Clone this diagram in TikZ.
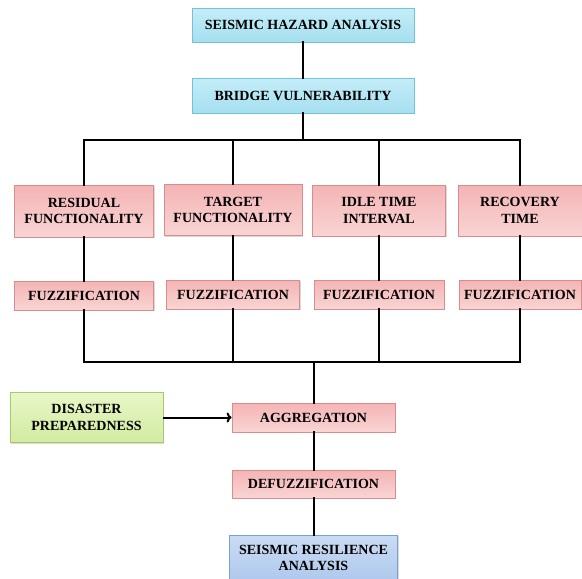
\documentclass[tikz,border=0pt]{standalone}
\usepackage{fontspec}
\setmainfont{Liberation Serif}
\usetikzlibrary{shadows, positioning, arrows.meta}

\definecolor{cyanfill}{HTML}{C4EDF8}
\definecolor{cyanfilldk}{HTML}{A6DFF0}
\definecolor{cyanline}{HTML}{6FC3DC}
\definecolor{pinkfill}{HTML}{F4B4B4}
\definecolor{pinkfilllt}{HTML}{F9D4D4}
\definecolor{pinkline}{HTML}{D98C8C}
\definecolor{greenfill}{HTML}{E8F6C8}
\definecolor{greenfilldk}{HTML}{D2EBA0}
\definecolor{greenline}{HTML}{A7C86C}
\definecolor{bluefill}{HTML}{CADCF4}
\definecolor{bluefilldk}{HTML}{AFC8EC}
\definecolor{blueline}{HTML}{7C9FD4}

\tikzset{
  box/.style={draw, line width=0.8pt, align=center, inner sep=0pt,
    font=\fontsize{14}{16.5}\selectfont\bfseries,
    drop shadow={shadow xshift=1.2pt, shadow yshift=-1.2pt, opacity=0.3}},
  cyanbox/.style={box, draw=cyanline, top color=cyanfill, bottom color=cyanfilldk},
  pinkbox/.style={box, draw=pinkline, top color=pinkfill, bottom color=pinkfilllt},
  greenbox/.style={box, draw=greenline, top color=greenfill, bottom color=greenfilldk},
  bluebox/.style={box, draw=blueline, top color=bluefill, bottom color=bluefilldk},
  link/.style={line width=2pt, line cap=rect}
}

\begin{document}
\begin{tikzpicture}[x=1pt, y=-1pt]
	\useasboundingbox (0,0) rectangle (582,579);
	% top chain
	\node[cyanbox, minimum width=222pt, minimum height=34pt] (sha) at (303,25) {SEISMIC HAZARD ANALYSIS};
	\node[cyanbox, minimum width=222pt, minimum height=35pt] (bv) at (303,95.5) {BRIDGE VULNERABILITY};
	% parameters
	\node[pinkbox, minimum width=139pt, minimum height=52pt] (res) at (84,211) {RESIDUAL\\FUNCTIONALITY};
	\node[pinkbox, minimum width=138pt, minimum height=51pt] (tgt) at (233,210) {TARGET\\FUNCTIONALITY};
	\node[pinkbox, minimum width=133pt, minimum height=51pt] (idl) at (379,210.5) {IDLE TIME\\INTERVAL};
	\node[pinkbox, minimum width=124pt, minimum height=51pt] (rec) at (520,210.5) {RECOVERY\\TIME};
	\node[pinkbox, minimum width=139pt, minimum height=29pt] (fz1) at (84,295.5) {FUZZIFICATION};
	\node[pinkbox, minimum width=133pt, minimum height=29pt] (fz2) at (233,294.5) {FUZZIFICATION};
	\node[pinkbox, minimum width=130pt, minimum height=29pt] (fz3) at (379,294.5) {FUZZIFICATION};
	\node[pinkbox, minimum width=122pt, minimum height=29pt] (fz4) at (520,294.5) {FUZZIFICATION};
	% bottom chain
	\node[greenbox, minimum width=153pt, minimum height=50pt] (dis) at (86.5,417.5) {DISASTER\\PREPAREDNESS};
	\node[pinkbox, minimum width=163pt, minimum height=29pt] (agg) at (313.5,417.5) {AGGREGATION};
	\node[pinkbox, minimum width=163pt, minimum height=28pt] (dfz) at (313.5,484) {DEFUZZIFICATION};
	\node[bluebox, minimum width=168pt, minimum height=46pt] (sra) at (313.5,558) {SEISMIC RESILIENCE\\ANALYSIS};
	% buses
	\coordinate (bt1) at (84,140);
	\coordinate (bt4) at (520,140);
	\coordinate (bb1) at (84,362);
	\coordinate (bb4) at (520,362);
	\draw[link] (sha) -- (bv);
	\draw[link] (bv) -- (bv |- bt1);
	\draw[link] (bt1) -- (bt4);
	\foreach \n in {res,tgt,idl,rec}
		\draw[link] (\n) -- (\n |- bt1);
	\foreach \a/\b in {res/fz1,tgt/fz2,idl/fz3,rec/fz4}
		\draw[link] (\a) -- (\b);
	\foreach \n in {fz1,fz2,fz3,fz4}
		\draw[link] (\n) -- (\n |- bb1);
	\draw[link] (bb1) -- (bb4);
	\draw[link] (agg) -- (agg |- bb1);
	\draw[link, line cap=butt, -{To[length=5pt, width=10pt]}] (dis) -- (agg);
	\draw[link] (agg) -- (dfz);
	\draw[link] (dfz) -- (sra);
\end{tikzpicture}
\end{document}
